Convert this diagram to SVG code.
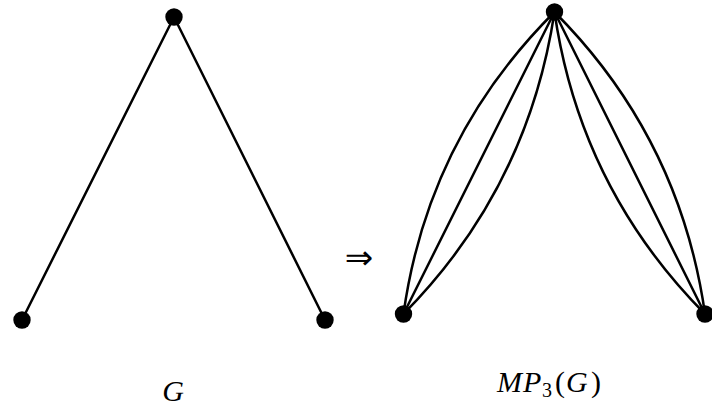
<svg xmlns="http://www.w3.org/2000/svg" width="712" height="416" viewBox="0 0 712 416">
<style>
.e{fill:none;stroke:#000;stroke-width:2.5;stroke-linecap:round}
.n{fill:#000}
.t{font-family:"Liberation Serif",serif;font-style:italic;font-size:30px;fill:#000}
.u{font-style:normal}
.a{font-family:"DejaVu Sans",sans-serif;font-size:34px;fill:#000}
</style>
<rect width="712" height="416" fill="#fff"/>
<g id="connectors">
<line class="e" x1="174" y1="17" x2="22" y2="320"/>
<line class="e" x1="174" y1="17" x2="325" y2="320"/>
<path class="e" d="M554.5,12 Q428,138 403.5,314"/>
<line class="e" x1="554.5" y1="12" x2="403.5" y2="314"/>
<path class="e" d="M554.5,12 Q528,188 403.5,314"/>
<path class="e" d="M554.5,12 Q680,138 705,314"/>
<line class="e" x1="554.5" y1="12" x2="705" y2="314"/>
<path class="e" d="M554.5,12 Q580,188 705,314"/>
</g>
<g id="g-top"><circle class="n" cx="174" cy="17" r="8.7"/></g>
<g id="g-left"><circle class="n" cx="22" cy="320" r="8.7"/></g>
<g id="g-right"><circle class="n" cx="325" cy="320" r="8.7"/></g>
<g id="mp-top"><circle class="n" cx="554.5" cy="12" r="8.7"/></g>
<g id="mp-left"><circle class="n" cx="403.5" cy="314" r="8.7"/></g>
<g id="mp-right"><circle class="n" cx="705" cy="314" r="8.7"/></g>
<g id="labels">
<text class="a" x="359" y="269" text-anchor="middle">⇒</text>
<text class="t" x="173" y="401" text-anchor="middle">G</text>
<text class="t" y="392"><tspan x="497">M</tspan><tspan x="523">P</tspan><tspan class="u" x="542" y="397" font-size="20">3</tspan><tspan class="u" x="555" y="392">(</tspan><tspan x="566">G</tspan><tspan class="u" x="591">)</tspan></text>
</g>
</svg>
